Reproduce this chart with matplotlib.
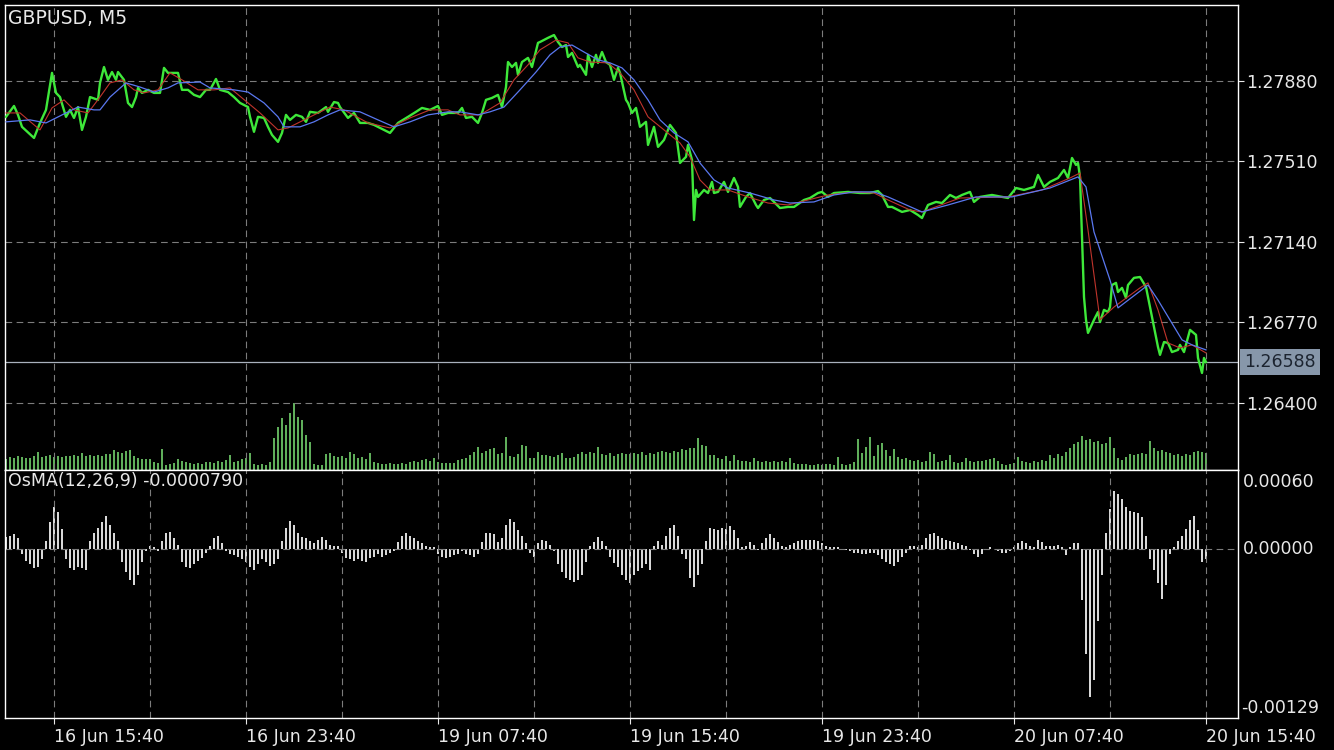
import numpy as np
import matplotlib
matplotlib.use('Agg')
import matplotlib.pyplot as plt

#--------------------------------------------------------------------------------
# data (x = 5-minute bar number, 0 = 16 Jun 15:40)

symbol_title = 'GBPUSD, M5'
osma_title = 'OsMA(12,26,9) -0.0000790'
last_price = 1.26588

price_ticks = [1.27880, 1.27510, 1.27140, 1.26770, 1.26400]
osma_ticks = [0.00060, 0.00000, -0.00129]
time_labels = ['16 Jun 15:40', '16 Jun 23:40', '19 Jun 07:40', '19 Jun 15:40',
               '19 Jun 23:40', '20 Jun 07:40', '20 Jun 15:40']

# close line, (bar, price)
close_pts = [
    (-24, 1.27715), (-20, 1.27765), (-18, 1.27724), (-16, 1.27669), (-10, 1.27618), (-7, 1.27687),
    (-4, 1.27747), (-1, 1.27917), (1, 1.27825), (3, 1.27806), (6, 1.27715), (8, 1.27747),
    (10, 1.27710), (12, 1.27760), (14, 1.27655), (16, 1.27715), (18, 1.27806), (22, 1.27793),
    (23, 1.27871), (25, 1.27944), (27, 1.27885), (29, 1.27921), (31, 1.27885), (32, 1.27921),
    (35, 1.27885), (37, 1.27779), (39, 1.27760), (41, 1.27806), (42, 1.27848), (44, 1.27825),
    (47, 1.27839), (50, 1.27825), (53, 1.27825), (55, 1.27940), (57, 1.27917), (62, 1.27917),
    (64, 1.27839), (67, 1.27839), (70, 1.27816), (73, 1.27806), (76, 1.27839), (78, 1.27839),
    (81, 1.27889), (83, 1.27839), (87, 1.27829), (90, 1.27806), (93, 1.27779), (97, 1.27760),
    (98, 1.27715), (100, 1.27646), (102, 1.27715), (105, 1.27710), (107, 1.27669), (109, 1.27632),
    (112, 1.27600), (114, 1.27641), (116, 1.27724), (118, 1.27701), (121, 1.27724), (124, 1.27715),
    (126, 1.27692), (128, 1.27738), (132, 1.27733), (136, 1.27760), (137, 1.27738), (140, 1.27783),
    (142, 1.27779), (143, 1.27760), (147, 1.27710), (150, 1.27733), (153, 1.27687), (157, 1.27687),
    (160, 1.27678), (163, 1.27664), (168, 1.27641), (172, 1.27687), (177, 1.27715), (181, 1.27738),
    (184, 1.27756), (188, 1.27747), (192, 1.27765), (194, 1.27724), (197, 1.27733), (202, 1.27733),
    (204, 1.27756), (206, 1.27710), (209, 1.27715), (212, 1.27687), (214, 1.27733), (216, 1.27793),
    (219, 1.27802), (222, 1.27816), (224, 1.27760), (226, 1.27852), (227, 1.27967), (229, 1.27944),
    (231, 1.27963), (232, 1.27908), (234, 1.27967), (237, 1.27986), (239, 1.27944), (242, 1.28055),
    (243, 1.28059), (247, 1.28078), (250, 1.28091), (252, 1.28059), (254, 1.28036), (256, 1.28045),
    (257, 1.27990), (259, 1.28009), (262, 1.27944), (263, 1.27954), (266, 1.27908), (267, 1.28000),
    (269, 1.27944), (271, 1.28000), (272, 1.27963), (274, 1.28013), (276, 1.27967), (278, 1.27954),
    (280, 1.27885), (282, 1.27940), (283, 1.27917), (286, 1.27793), (287, 1.27779), (289, 1.27733),
    (291, 1.27756), (293, 1.27669), (296, 1.27692), (297, 1.27586), (300, 1.27669), (302, 1.27577),
    (305, 1.27609), (308, 1.27678), (311, 1.27641), (313, 1.27503), (316, 1.27531), (317, 1.27586),
    (319, 1.27517), (320, 1.27241), (321, 1.27379), (322, 1.27347), (325, 1.27379), (327, 1.27365),
    (329, 1.27416), (330, 1.27365), (332, 1.27370), (335, 1.27416), (337, 1.27370), (340, 1.27434),
    (342, 1.27393), (343, 1.27301), (346, 1.27347), (348, 1.27365), (351, 1.27310), (352, 1.27296),
    (355, 1.27333), (358, 1.27342), (360, 1.27324), (363, 1.27296), (367, 1.27301), (370, 1.27301),
    (375, 1.27333), (378, 1.27342), (382, 1.27365), (384, 1.27370), (387, 1.27347), (390, 1.27365),
    (397, 1.27370), (403, 1.27365), (408, 1.27365), (412, 1.27374), (414, 1.27356), (417, 1.27301),
    (419, 1.27301), (424, 1.27278), (428, 1.27287), (432, 1.27264), (434, 1.27250), (437, 1.27310),
    (441, 1.27324), (444, 1.27319), (448, 1.27356), (451, 1.27342), (454, 1.27356), (458, 1.27370),
    (460, 1.27324), (463, 1.27347), (469, 1.27356), (474, 1.27347), (477, 1.27342), (481, 1.27388),
    (485, 1.27379), (490, 1.27393), (492, 1.27448), (495, 1.27393), (498, 1.27416), (502, 1.27434),
    (505, 1.27471), (507, 1.27434), (509, 1.27526), (511, 1.27494), (512, 1.27503), (513, 1.27439),
    (515, 1.26887), (516, 1.26782), (517, 1.26722), (520, 1.26782), (522, 1.26818), (523, 1.26772),
    (525, 1.26828), (527, 1.26818), (528, 1.26841), (529, 1.26942), (531, 1.26952), (532, 1.26910),
    (534, 1.26929), (536, 1.26883), (537, 1.26942), (540, 1.26975), (543, 1.26979), (546, 1.26933),
    (548, 1.26841), (550, 1.26749), (552, 1.26657), (553, 1.26621), (555, 1.26680), (557, 1.26676),
    (559, 1.26634), (562, 1.26644), (563, 1.26667), (565, 1.26634), (567, 1.26703), (568, 1.26736),
    (571, 1.26713), (572, 1.26607), (574, 1.26538), (575, 1.26607), (576, 1.26588),
]

# slow moving average (blue)
ma_slow_pts = [
    (-24, 1.27692), (-12, 1.27701), (-4, 1.27687), (6, 1.27733), (12, 1.27760), (20, 1.27747),
    (23, 1.27747), (28, 1.27806), (36, 1.27871), (43, 1.27852), (50, 1.27829), (57, 1.27848),
    (62, 1.27871), (73, 1.27875), (78, 1.27848), (90, 1.27839), (97, 1.27829), (105, 1.27779),
    (112, 1.27715), (115, 1.27669), (123, 1.27669), (130, 1.27692), (137, 1.27724), (143, 1.27747),
    (153, 1.27738), (162, 1.27701), (170, 1.27669), (178, 1.27692), (187, 1.27724), (197, 1.27738),
    (203, 1.27738), (212, 1.27724), (218, 1.27738), (225, 1.27760), (233, 1.27839), (241, 1.27921),
    (248, 1.28000), (253, 1.28036), (259, 1.28045), (265, 1.28013), (272, 1.27977), (278, 1.27963),
    (284, 1.27940), (290, 1.27885), (297, 1.27793), (303, 1.27701), (310, 1.27641), (317, 1.27600),
    (323, 1.27503), (330, 1.27425), (337, 1.27388), (348, 1.27365), (360, 1.27333), (368, 1.27319),
    (380, 1.27324), (390, 1.27356), (400, 1.27370), (410, 1.27370), (417, 1.27347), (434, 1.27278),
    (447, 1.27310), (461, 1.27347), (479, 1.27347), (498, 1.27388), (512, 1.27439), (516, 1.27393),
    (520, 1.27186), (528, 1.26965), (532, 1.26837), (547, 1.26942), (552, 1.26873), (564, 1.26690),
    (569, 1.26667), (576, 1.26644),
]

# fast moving average (red)
ma_fast_pts = [
    (-24, 1.27733), (-17, 1.27733), (-7, 1.27655), (-1, 1.27756), (5, 1.27793), (10, 1.27747),
    (17, 1.27733), (23, 1.27806), (28, 1.27871), (34, 1.27885), (40, 1.27839), (45, 1.27825),
    (52, 1.27839), (58, 1.27917), (64, 1.27885), (72, 1.27839), (80, 1.27839), (88, 1.27848),
    (97, 1.27779), (103, 1.27733), (112, 1.27655), (117, 1.27664), (127, 1.27710), (138, 1.27760),
    (145, 1.27747), (157, 1.27687), (168, 1.27664), (178, 1.27710), (188, 1.27747), (197, 1.27747),
    (203, 1.27724), (213, 1.27724), (223, 1.27779), (230, 1.27885), (237, 1.27954), (243, 1.28023),
    (251, 1.28068), (257, 1.28055), (262, 1.27986), (268, 1.27967), (277, 1.27963), (283, 1.27917),
    (290, 1.27839), (297, 1.27715), (305, 1.27655), (313, 1.27595), (318, 1.27531), (323, 1.27425),
    (328, 1.27379), (337, 1.27379), (347, 1.27347), (357, 1.27319), (367, 1.27310), (377, 1.27333),
    (387, 1.27356), (400, 1.27370), (410, 1.27365), (417, 1.27333), (428, 1.27287), (434, 1.27278),
    (453, 1.27342), (477, 1.27347), (494, 1.27379), (508, 1.27434), (513, 1.27457), (517, 1.27195),
    (523, 1.26782), (530, 1.26841), (543, 1.26929), (547, 1.26952), (552, 1.26828), (557, 1.26676),
    (563, 1.26653), (569, 1.26667), (576, 1.26630),
]

# tick volume, one value per 2 bars starting at bar -24
volume = [
    11, 13, 12, 14, 13, 12, 12, 14, 18, 13, 14, 15,
    13, 14, 13, 14, 14, 15, 14, 17, 14, 15, 14, 15, 14, 16, 16, 20, 18, 17, 19, 20, 14, 12, 11, 11,
    11, 8, 7, 21, 5, 6, 7, 11, 9, 8, 7, 6, 7, 6, 8, 8, 7, 9, 8, 10, 15, 8, 9, 11,
    12, 17, 6, 5, 6, 5, 8, 32, 43, 52, 45, 57, 67, 53, 50, 35, 28, 6, 5, 5, 16, 17, 14, 13,
    14, 12, 18, 16, 12, 13, 11, 17, 8, 7, 6, 6, 7, 6, 6, 7, 6, 8, 9, 8, 10, 11, 9, 12,
    8, 7, 7, 7, 7, 10, 11, 12, 15, 18, 23, 17, 19, 21, 22, 16, 17, 33, 14, 13, 16, 25, 24, 12,
    12, 18, 15, 15, 14, 13, 15, 17, 12, 12, 13, 16, 18, 16, 18, 17, 23, 16, 15, 17, 14, 16, 17, 16,
    16, 17, 16, 18, 15, 17, 16, 18, 19, 18, 17, 19, 18, 21, 20, 22, 22, 32, 25, 24, 15, 15, 12, 11,
    14, 9, 15, 10, 9, 9, 8, 12, 9, 8, 9, 8, 9, 8, 9, 8, 12, 7, 6, 6, 6, 5, 5, 6,
    5, 6, 6, 5, 13, 6, 5, 6, 8, 31, 17, 23, 33, 14, 25, 27, 20, 14, 21, 13, 11, 12, 10, 9,
    10, 8, 9, 18, 16, 8, 9, 10, 15, 8, 7, 8, 12, 9, 8, 9, 9, 10, 11, 12, 9, 6, 5, 6,
    7, 13, 9, 8, 7, 9, 8, 10, 9, 15, 12, 16, 14, 18, 22, 26, 28, 34, 30, 31, 28, 29, 26, 27,
    33, 22, 12, 10, 13, 16, 15, 16, 17, 16, 29, 22, 19, 20, 18, 17, 15, 16, 14, 16, 15, 18, 19, 18,
    17,
]

# OsMA histogram in units of 1e-5, one value per 2 bars starting at bar -24
osma = [
    9, 10, 11, 8, -4, -9, -12, -15, -14, -8, 6, 20,
    32, 28, 15, -8, -15, -16, -14, -15, -16, 6, 12, 16, 20, 25, 18, 12, 6, -10, -18, -24, -28, -20, -10, -2,
    2, 1, -2, 6, 12, 13, 8, 3, -10, -14, -15, -12, -9, -7, -3, 2, 8, 10, 4, -2, -4, -5, -6, -8,
    -10, -14, -16, -12, -8, -10, -13, -12, -8, 6, 16, 21, 18, 12, 9, 8, 6, 4, 7, 9, 7, 3, 2, 2,
    -3, -7, -8, -9, -8, -9, -10, -7, -6, -4, -6, -5, -3, -2, 5, 10, 12, 10, 8, 6, 4, 2, 1, 1,
    -4, -6, -7, -6, -5, -4, -2, -4, -5, -6, -4, 5, 12, 12, 11, 5, 8, 18, 23, 20, 14, 10, 4, -3,
    -6, 4, 7, 6, 3, -2, -12, -18, -22, -24, -25, -24, -20, -10, 2, 5, 9, 6, 2, -6, -11, -14, -20, -24,
    -26, -20, -17, -15, -12, -16, 2, 6, 3, 10, 16, 18, 10, -4, -8, -22, -29, -20, -12, 6, 16, 15, 14, 16,
    15, 17, 14, 8, 1, 2, 5, 3, -1, 4, 8, 11, 8, 5, 2, 1, 3, 4, 6, 7, 7, 7, 7, 6,
    4, 2, 1, 1, 1, 0, -1, -2, -3, -3, -4, -4, -3, -3, -5, -8, -10, -12, -13, -10, -6, -3, 2, 2,
    1, 3, 8, 11, 12, 10, 8, 7, 6, 5, 4, 3, 2, -1, -4, -6, -4, -1, 1, 0, -2, -3, -3, -2,
    1, 4, 6, 4, 2, 1, 7, 5, 2, 2, 2, 3, 1, -5, 1, 4, 4, -39, -80, -113, -100, -55, -20, 12,
    30, 44, 42, 38, 32, 29, 28, 27, 24, 10, -8, -16, -26, -38, -28, -4, 1, 6, 10, 15, 22, 25, 14, -10,
    -8,
]

#--------------------------------------------------------------------------------
if __name__ == '__main__':

    plt.rcParams['font.family'] = ['DejaVu Sans']
    W, H = 1334, 750
    fg = '#e8e8e8'
    grid_kw = dict(color='#7c7c7c', linestyle=(0, (6, 4)), linewidth=0.8)

    def rect(l, t, r, b):
        return [l / W, 1 - b / H, (r - l) / W, (b - t) / H]

    fig = plt.figure(figsize=(W / 100, H / 100), dpi=100, facecolor='black')

    #Panels
    axv = fig.add_axes(rect(5, 5, 1238, 470))
    ax = fig.add_axes(rect(5, 5, 1238, 470), sharex=axv)
    axo = fig.add_axes(rect(5, 470, 1238, 718), sharex=axv)
    axv.set_facecolor('black')
    ax.patch.set_visible(False)
    axo.set_facecolor('black')

    bars2 = np.arange(len(volume)) * 2 - 24
    axv.bar(bars2, volume, width=1.0, color='#5fae5a', linewidth=0)
    axv.set_ylim(0, max(volume) * 465 / 67)
    axv.axis('off')

    #Price and averages
    cb, cp = zip(*close_pts)
    sb, sp = zip(*ma_slow_pts)
    fb, fp = zip(*ma_fast_pts)
    ax.plot(cb, cp, color='#3ee83a', linewidth=1.7, zorder=3, solid_joinstyle='round')
    ax.plot(fb, fp, color='#c0342c', linewidth=0.8, zorder=4)
    ax.plot(sb, sp, color='#5a78f0', linewidth=0.9, zorder=4)
    ax.axhline(last_price, color='#a9b1bd', linewidth=0.9, zorder=2)

    ax.set_xlim(-24.5, 592)
    ax.set_ylim(1.26092, 1.28229)
    ax.set_yticks(price_ticks)
    ax.set_yticklabels(['%.5f' % p for p in price_ticks])
    ax.yaxis.tick_right()
    ax.tick_params(axis='y', colors=fg, labelsize=12.5, length=4, width=0.8, pad=2)
    ax.tick_params(axis='x', length=0, labelbottom=False)
    ax.set_xticks(range(0, 577, 48))
    ax.grid(True, **grid_kw)
    for s in ax.spines.values():
        s.set_color('white')
        s.set_linewidth(1.0)

    ax.text(3 / 1233, 1 - 13 / 465, symbol_title, transform=ax.transAxes,
            color=fg, fontsize=13.5, ha='left', va='center')
    ax.text(1 + 6 / 1233, last_price, '%.5f' % last_price,
            transform=ax.get_yaxis_transform(), color='#1c2430', fontsize=12.5,
            ha='left', va='center', zorder=6,
            bbox=dict(boxstyle='square,pad=0.25', facecolor='#8797aa', edgecolor='none'))

    #OsMA
    osma_vals = np.array(osma) * 1e-5
    axo.bar(bars2, osma_vals, width=1.0, color='#d8d8d8', linewidth=0)
    axo.set_ylim(osma_ticks[2], osma_ticks[0])
    axo.axhline(0, **grid_kw)
    axo.set_xticks(range(0, 577, 96))
    axo.set_xticks(range(48, 577, 96), minor=True)
    axo.set_xticklabels(time_labels, ha='left')
    axo.grid(True, axis='x', which='both', **grid_kw)
    axo.tick_params(axis='x', which='major', colors=fg, labelsize=12.5, length=4, width=0.8, pad=3)
    axo.tick_params(axis='x', which='minor', length=0)
    axo.tick_params(axis='y', length=0, labelleft=False, labelright=False)
    axo.set_yticks([])
    for s in axo.spines.values():
        s.set_color('white')
        s.set_linewidth(1.0)

    axo.text(3 / 1233, 1 - 11 / 248, osma_title, transform=axo.transAxes,
             color=fg, fontsize=12.5, ha='left', va='center')
    fig.text(1243 / W, 1 - 482 / H, '%.5f' % osma_ticks[0], color=fg, fontsize=12.5, va='center')
    fig.text(1243 / W, 1 - 549 / H, '%.5f' % osma_ticks[1], color=fg, fontsize=12.5, va='center')
    fig.text(1241 / W, 1 - 708 / H, '%.5f' % osma_ticks[2], color=fg, fontsize=12.5, va='center')

    fig.savefig('out.png', dpi=100, facecolor='black')
